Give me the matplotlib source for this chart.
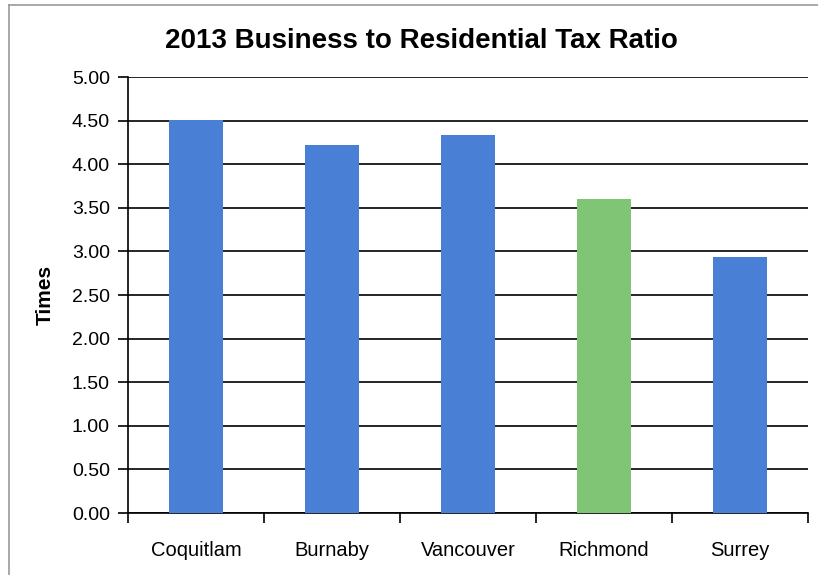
import matplotlib.pyplot as plt
from matplotlib.lines import Line2D

cities = ["Coquitlam", "Burnaby", "Vancouver", "Richmond", "Surrey"]
tax_ratio = [4.51, 4.22, 4.33, 3.60, 2.94]
bar_colors = ["#4a7fd6", "#4a7fd6", "#4a7fd6", "#80c476", "#4a7fd6"]
y_ticks = [0.0, 0.5, 1.0, 1.5, 2.0, 2.5, 3.0, 3.5, 4.0, 4.5, 5.0]

plt.rcParams["font.family"] = ["Liberation Sans", "DejaVu Sans"]

fig = plt.figure(figsize=(8.18, 5.75), dpi=100)
ax = fig.add_axes([128 / 818, 1 - 513 / 575, 680 / 818, 436 / 575])

x = range(len(cities))
ax.bar(x, tax_ratio, width=0.4, color=bar_colors, zorder=3)

ax.set_xlim(-0.5, len(cities) - 0.5)
ax.set_ylim(0, 5)
ax.set_yticks(y_ticks)
ax.set_yticklabels([f"{v:.2f}" for v in y_ticks], fontsize=14)
ax.yaxis.grid(True, color="black", linewidth=1.2, zorder=1)
ax.tick_params(axis="y", length=7, width=1.2, pad=6)

# category labels sit between the boundary ticks
ax.set_xticks(list(x))
ax.set_xticklabels(cities, fontsize=14.5)
ax.tick_params(axis="x", length=0, pad=20)
ax.set_xticks([i + 0.5 for i in range(-1, len(cities))], minor=True)
ax.tick_params(axis="x", which="minor", length=7, width=1.2)

for side in ["top", "right"]:
    ax.spines[side].set_visible(False)
ax.spines["left"].set_linewidth(1.2)
ax.spines["bottom"].set_linewidth(1.2)

ax.set_ylabel("Times", fontsize=15, fontweight="bold", labelpad=12)
fig.text(421 / 818, 1 - 41 / 575, "2013 Business to Residential Tax Ratio",
         ha="center", va="center", fontsize=20, fontweight="bold")

# chart frame
fig.add_artist(Line2D([9 / 818, 9 / 818], [0, 1 - 5 / 575], color="#999999", lw=1.2))
fig.add_artist(Line2D([9 / 818, 1], [1 - 5 / 575, 1 - 5 / 575], color="#999999", lw=1.2))

fig.savefig("out.png", dpi=100)
